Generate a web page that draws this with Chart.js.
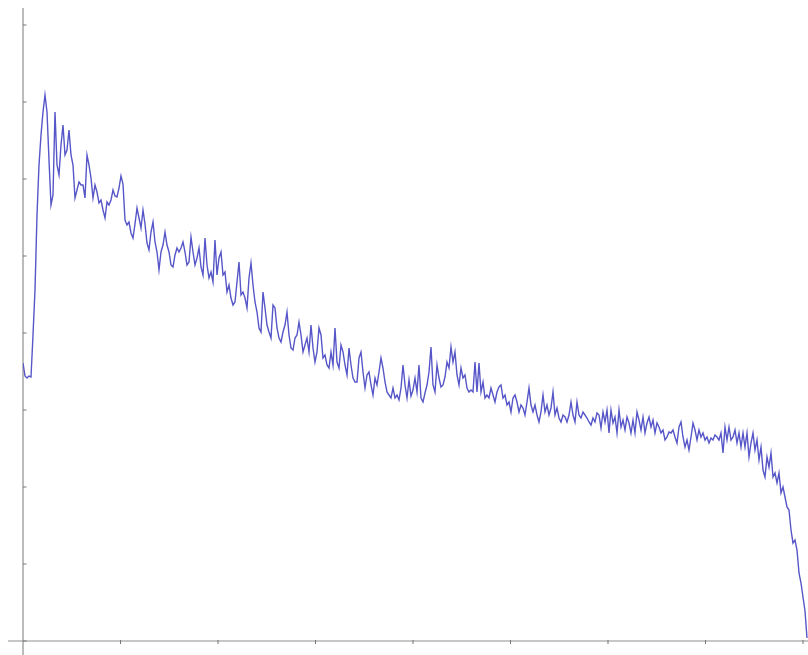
<!DOCTYPE html>
<html>
<head>
<meta charset="utf-8">
<script src="https://cdn.jsdelivr.net/npm/chart.js@4/dist/chart.umd.min.js"></script>
<style>
  html, body { margin: 0; padding: 0; background: #fff; }
  #wrap { width: 808px; height: 655px; }
</style>
</head>
<body>
<div id="wrap"><canvas id="chart" width="808" height="655"></canvas></div>
<script>
// signal height, one sample per step along x
const signal = [
  278, 265, 263, 265, 264, 306, 351, 426, 476, 506,
  529, 546, 529, 481, 436, 446, 529, 476, 466, 496,
  516, 486, 491, 511, 486, 476, 443, 451, 459, 456,
  456, 443, 486, 476, 463, 443, 456, 449, 438, 441,
  431, 423, 439, 436, 441, 451, 445, 444, 453, 465,
  457, 421, 416, 419, 408, 403, 417, 433, 423, 413,
  431, 417, 398, 391, 409, 419, 399, 389, 371, 389,
  396, 409, 396, 389, 376, 374, 386, 393, 389, 393,
  399, 389, 376, 379, 404, 389, 376, 383, 393, 374,
  366, 403, 376, 363, 369, 359, 401, 366, 383, 389,
  366, 369, 349, 356, 343, 336, 339, 359, 379, 346,
  349, 343, 333, 363, 378, 356, 339, 329, 313, 309,
  349, 333, 316, 309, 303, 336, 333, 313, 303, 299,
  309, 316, 329, 306, 293, 291, 303, 306, 319, 306,
  289, 296, 303, 289, 316, 293, 279, 289, 313, 306,
  283, 286, 276, 273, 289, 276, 313, 279, 273, 296,
  289, 276, 266, 293, 276, 263, 259, 259, 283, 289,
  269, 253, 266, 269, 256, 246, 263, 256, 269, 283,
  273, 259, 249, 246, 243, 253, 243, 246, 241, 253,
  276, 256, 243, 261, 245, 251, 263, 249, 276, 243,
  239, 248, 256, 269, 294, 256, 249, 276, 263, 254,
  256, 264, 279, 273, 294, 279, 289, 266, 256, 273,
  263, 266, 253, 249, 251, 249, 279, 249, 278, 249,
  259, 243, 246, 243, 253, 246, 239, 249, 254, 256,
  243, 246, 236, 239, 229, 243, 246, 239, 229, 236,
  233, 226, 239, 253, 236, 229, 236, 226, 219, 229,
  246, 229, 236, 226, 233, 249, 226, 233, 223, 219,
  226, 224, 219, 226, 239, 226, 219, 239, 226, 223,
  229, 226, 223, 219, 216, 223, 219, 228, 226, 213,
  229, 219, 231, 208, 231, 218, 224, 208, 231, 214,
  221, 211, 224, 218, 208, 221, 208, 229, 221, 211,
  224, 208, 218, 224, 214, 221, 208, 218, 214, 208,
  211, 201, 204, 209, 208, 211, 204, 198, 214, 219,
  204, 194, 201, 191, 204, 218, 211, 201, 211, 204,
  208, 201, 204, 198, 203, 201, 206, 204, 201, 208,
  188, 214, 201, 214, 201, 204, 211, 198, 208, 194,
  208, 194, 208, 184, 198, 208, 191, 201, 181, 194,
  171, 164, 184, 174, 188, 164, 168, 158, 168, 148,
  154, 144, 134, 131, 111, 98, 101, 91, 68, 58,
  44, 30, 3
];

// unlabelled tick marks
const xTicks = [0, 48.75, 97.5, 146.25, 195, 243.75, 292.5, 341.25, 390];
const yTicks = [0, 77, 154, 231, 308, 385, 462, 539, 616];
const xMax = 392.5;
const yMax = 633;

// axis lines + short tick marks, drawn through the chart scales
const axesPlugin = {
  id: 'axes',
  beforeDatasetsDraw(chart) {
    const { ctx, scales: { x, y } } = chart;
    const x0 = x.getPixelForValue(0);
    const y0 = y.getPixelForValue(0);
    ctx.save();
    ctx.strokeStyle = '#8f8f8f';
    ctx.lineWidth = 1.2;
    ctx.beginPath();
    ctx.moveTo(x0, y.getPixelForValue(yMax));
    ctx.lineTo(x0, chart.height);
    ctx.moveTo(8, y0);
    ctx.lineTo(x.getPixelForValue(xMax), y0);
    ctx.stroke();

    ctx.lineWidth = 1;
    ctx.strokeStyle = '#777';
    ctx.beginPath();
    yTicks.forEach(v => {
      const py = y.getPixelForValue(v);
      ctx.moveTo(x0, py);
      ctx.lineTo(x0 + 3.5, py);
    });
    xTicks.slice(1).forEach(v => {
      const px = x.getPixelForValue(v);
      ctx.moveTo(px, y0 - 1);
      ctx.lineTo(px, y0 + 3);
    });
    ctx.stroke();
    ctx.restore();
  }
};

new Chart(document.getElementById('chart'), {
  type: 'line',
  data: {
    datasets: [{
      data: signal.map((v, i) => ({ x: i, y: v })),
      borderColor: '#5656c8',
      borderWidth: 1.4,
      pointRadius: 0,
      tension: 0,
      fill: false
    }]
  },
  options: {
    responsive: false,
    animation: false,
    layout: { padding: { left: 23, right: 0, top: 8, bottom: 14 } },
    plugins: { legend: { display: false }, tooltip: { enabled: false } },
    scales: {
      x: { type: 'linear', min: 0, max: xMax, display: false },
      y: { type: 'linear', min: 0, max: yMax, display: false }
    }
  },
  plugins: [axesPlugin]
});
</script>
</body>
</html>
